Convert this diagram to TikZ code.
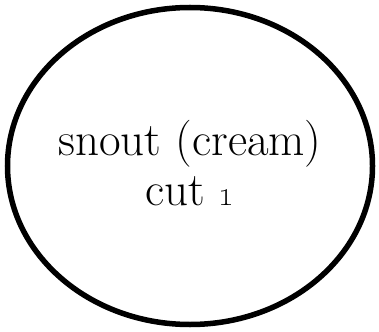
\documentclass[tikz,border=0pt]{standalone}
\usetikzlibrary{shapes.geometric}
\begin{document}
\begin{tikzpicture}[x=1pt,y=-1pt,
  ring/.style={ellipse,draw=black,line width=5.5pt,inner sep=0pt,minimum width=365pt,minimum height=317pt},
  caption/.style={align=center,font=\fontsize{47}{50}\selectfont,inner sep=0pt}]
\useasboundingbox (0,0) rectangle (379,331);
\node[ring] (oval) at (190,166) {};
\node[caption] (label) at (190,163) {snout (cream)\\cut \oldstylenums{1}};
\end{tikzpicture}
\end{document}
